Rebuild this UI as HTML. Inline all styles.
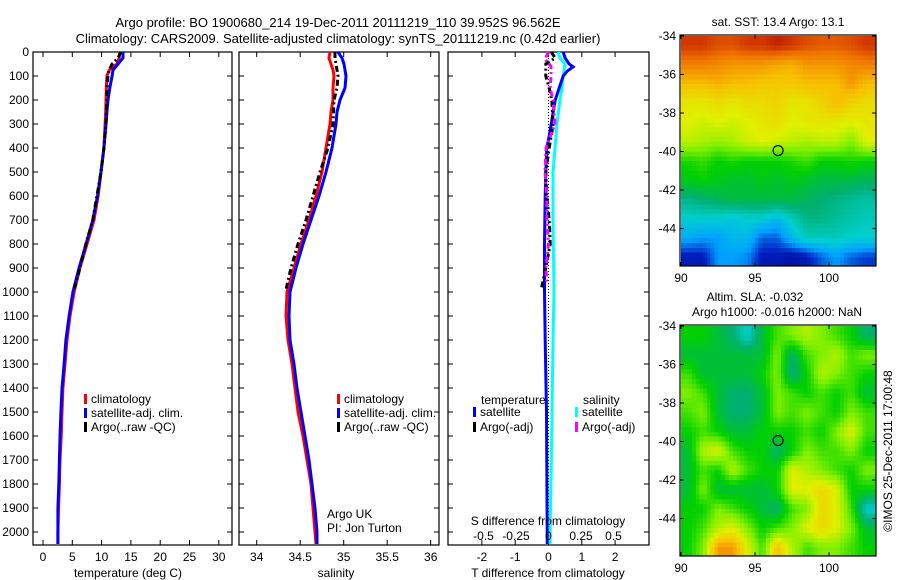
<!DOCTYPE html>
<html><head><meta charset="utf-8">
<style>
html,body{margin:0;padding:0;background:#fff;}
svg{display:block;font-family:"Liberation Sans",sans-serif;}
text{font-size:12px;fill:#000;}
</style></head>
<body>
<svg id="fig" width="900" height="580" viewBox="0 0 900 580" xmlns="http://www.w3.org/2000/svg">
<text x="338" y="27" text-anchor="middle" style="font-size:13px">Argo profile: BO 1900680_214 19-Dec-2011 20111219_110 39.952S 96.562E</text>
<text x="338" y="43" text-anchor="middle" style="font-size:13px">Climatology: CARS2009. Satellite-adjusted climatology: synTS_20111219.nc (0.42d earlier)</text>
</svg>
<script>
// ---------- data ----------
const depthClim = [0,25,50,75,100,150,200,250,300,400,500,600,700,800,900,1000,1100,1200,1300,1400,1500,1600,1700,1800,1900,2000,2050];
const tempClim = [13.1,13.0,12.6,11.3,10.9,10.8,10.75,10.7,10.6,10.4,9.9,9.4,8.7,7.5,6.3,5.3,4.6,4.1,3.75,3.4,3.25,3.1,2.9,2.8,2.65,2.55,2.55];
const tempSat = [13.65,13.65,12.8,11.95,11.8,11.4,11.1,10.9,10.75,10.4,9.9,9.3,8.5,7.35,6.15,5.1,4.45,3.9,3.6,3.25,3.05,2.9,2.8,2.7,2.55,2.55,2.55];
const depthArgo = [0,25,50,75,100,150,200,300,400,500,600,700,800,900,990];
const tempArgo = [13.3,12.8,11.8,11.3,11.1,10.9,10.9,10.75,10.4,9.9,9.2,8.5,7.3,6.3,5.3];
const salClim = [34.843,34.831,34.854,34.877,34.889,34.877,34.877,34.854,34.843,34.797,34.751,34.682,34.601,34.509,34.429,34.348,34.337,34.360,34.406,34.440,34.475,34.532,34.578,34.624,34.647,34.670,34.682];
const salSat = [34.934,34.980,35.003,35.015,35.026,35.015,34.957,34.923,34.911,34.866,34.797,34.716,34.624,34.532,34.452,34.383,34.371,34.383,34.429,34.463,34.509,34.555,34.601,34.636,34.670,34.693,34.693];
const salArgo = [34.900,34.900,34.911,34.923,34.934,34.923,34.889,34.877,34.820,34.728,34.647,34.567,34.475,34.394,34.337];
const depthTdiff = [0,25,50,62,80,100,150,200,250,300,350,400,500,600,800,1000,1200,1500,2000,2050];
const tDiffSat = [0.44,0.5,0.62,0.74,0.56,0.44,0.32,0.2,0.14,0.08,0.02,-0.05,-0.08,-0.1,-0.12,-0.12,-0.1,-0.06,-0.04,-0.04];
const depthSdiff = [0,25,50,100,150,200,300,400,500,700,1000,1200,1500,1800,2000,2050];
const sDiffSat = [0.073,0.088,0.127,0.112,0.104,0.088,0.065,0.05,0.035,0.035,0.042,0.035,0.027,0.019,0.012,0.012];
const depthTdiffArgo = [0,25,50,100,150,200,300,400,500,600,700,800,900,990];
const tDiffArgo = [0.08,0.2,-0.08,-0.08,0.02,0.1,0.14,0.02,-0.08,-0.05,0.02,0.05,-0.08,-0.22];
const depthSdiffArgo = [0,30,60,100,150,200,300,400,500,600,700,800,900,970];
const sDiffArgo = [0,-0.027,0.019,0.019,0.012,0.035,0.05,-0.019,-0.027,-0.012,-0.012,0,-0.019,-0.012];
const depthTicks = [0,100,200,300,400,500,600,700,800,900,1000,1100,1200,1300,1400,1500,1600,1700,1800,1900,2000];
const tempTicks = [0,5,10,15,20,25,30];
const salTicks = [34,34.5,35,35.5,36];
const tDiffTicks = [-2,-1,0,1,2];
const sDiffTicks = [-0.5,-0.25,0,0.25,0.5];
const sDiffTickLabels = ["-0.5","-0.25","0","0.25","0.5"];
const lonTicks = [90,95,100];
const latTicks = [-34,-36,-38,-40,-42,-44];
// SST grid (colour index 0..1), rows lat -34.5..-45.5, cols lon 90.5..102.5
const sstGrid = [
[.95,.95,.93,.93,.95,.95,.97,.95,.93,.92,.92,.93,.95],
[.88,.88,.87,.85,.85,.85,.83,.82,.85,.85,.85,.87,.88],
[.8,.8,.82,.8,.8,.78,.78,.78,.8,.8,.8,.85,.8],
[.72,.72,.74,.72,.74,.74,.76,.72,.72,.76,.8,.76,.74],
[.7,.68,.7,.68,.7,.72,.74,.7,.72,.72,.72,.7,.72],
[.66,.64,.62,.64,.68,.7,.68,.66,.64,.66,.66,.6,.7],
[.52,.54,.5,.52,.5,.5,.5,.52,.55,.5,.5,.52,.5],
[.48,.5,.48,.46,.46,.48,.46,.48,.46,.44,.44,.44,.42],
[.38,.4,.42,.44,.44,.44,.44,.44,.42,.4,.38,.36,.35],
[.3,.3,.3,.28,.3,.3,.25,.32,.38,.38,.36,.34,.32],
[.22,.2,.2,.25,.25,.15,.15,.25,.32,.32,.32,.3,.3],
[.08,.08,.2,.2,.18,.08,.08,.05,.08,.15,.2,.15,.12]];
const slaGrid = [
[.5,.5,.45,.4,.3,.45,.55,.6,.65,.6,.55,.5,.4],
[.45,.45,.45,.45,.45,.45,.6,.4,.55,.6,.65,.55,.6],
[.55,.45,.45,.45,.45,.5,.6,.38,.5,.65,.6,.55,.5],
[.6,.55,.45,.4,.4,.45,.6,.55,.5,.55,.5,.55,.45],
[.55,.6,.45,.4,.4,.45,.6,.55,.6,.55,.5,.6,.55],
[.5,.55,.5,.45,.45,.5,.5,.5,.55,.5,.6,.7,.55],
[.45,.65,.7,.55,.5,.5,.4,.5,.6,.55,.55,.6,.5],
[.45,.55,.5,.65,.55,.5,.5,.7,.65,.6,.55,.5,.6],
[.45,.6,.45,.45,.45,.45,.5,.7,.7,.75,.7,.5,.5],
[.5,.5,.6,.55,.5,.45,.4,.55,.6,.75,.7,.55,.3],
[.5,.55,.65,.7,.6,.5,.55,.6,.7,.75,.7,.6,.45],
[.5,.6,.85,.85,.7,.55,.8,.65,.55,.6,.6,.55,.5]];
const argoLon = 96.56, argoLat = -39.95;

// ---------- helpers ----------
const NS = "http://www.w3.org/2000/svg";
const svg = document.getElementById('fig');
function el(tag, attrs, parent){ const e=document.createElementNS(NS,tag); for(const k in attrs) e.setAttribute(k,attrs[k]); (parent||svg).appendChild(e); return e; }
function txt(x,y,s,anchor,parent){ const t=el('text',{x:x,y:y,'text-anchor':anchor||'start'},parent); t.textContent=s; return t; }
const yD = d => 52 + d*0.24;
const PB = 545;

function panel(name,x0,x1,xfun,ticks,labels,showY){
  const g = el('g',{});
  
  
  el('rect',{x:x0,y:52,width:x1-x0,height:PB-52,fill:'none',stroke:'#000','stroke-width':1.2},g);
  depthTicks.forEach(d=>{ const y=yD(d);
    el('line',{x1:x0,y1:y,x2:x0+5,y2:y,stroke:'#000'},g);
    el('line',{x1:x1-5,y1:y,x2:x1,y2:y,stroke:'#000'},g);
    if(showY){ const t=txt(x0-4,y+4,String(d),'end',g);
      
       }
  });
  if(ticks) ticks.forEach((v,i)=>{ const x=xfun(v);
    el('line',{x1:x,y1:52,x2:x,y2:57,stroke:'#000'},g);
    el('line',{x1:x,y1:PB-5,x2:x,y2:PB,stroke:'#000'},g);
    const t=txt(x,561,labels?labels[i]:String(v),'middle',g);
    
    
  });
  return g;
}
function line(g,xs,ds,xfun,color,w,dash,name){
  const pts = xs.map((v,i)=>xfun(v).toFixed(1)+','+yD(ds[i]).toFixed(1)).join(' ');
  const p = el('polyline',{points:pts,fill:'none',stroke:color,'stroke-width':w},g);
  if(dash) p.setAttribute('stroke-dasharray',dash);
  
  
}
function legendItem(g,x,y,color,label){
  el('rect',{x:x,y:y-5,width:3,height:10,fill:color},g);
  txt(x+7,y+4,label,'start',g);
}

// ---------- panel 1: temperature ----------
const xT = v => 43 + v*5.86;
const g1 = panel('temperature-panel',33,232,xT,tempTicks,null,true);
line(g1,tempClim,depthClim,xT,'#ff0000',3,null,'temp-climatology-line');
line(g1,tempSat,depthClim,xT,'#0000ff',3,null,'temp-satellite-line');
line(g1,tempArgo,depthArgo,xT,'#000',3,'6,3,2,3','temp-argo-line');
legendItem(g1,84,399,'#ff0000','climatology');
legendItem(g1,84,413,'#0000ff','satellite-adj. clim.');
legendItem(g1,84,427,'#000','Argo(..raw -QC)');
const tl=txt(128,577,'temperature (deg C)','middle',g1);
 

// ---------- panel 2: salinity ----------
const xS = v => 256.7 + (v-34)*87;
const g2 = panel('salinity-panel',239,439,xS,salTicks,null,false);
line(g2,salClim,depthClim,xS,'#ff0000',3,null,'sal-climatology-line');
line(g2,salSat,depthClim,xS,'#0000ff',3,null,'sal-satellite-line');
line(g2,salArgo,depthArgo,xS,'#000',3,'6,3,2,3','sal-argo-line');
legendItem(g2,337,399,'#ff0000','climatology');
legendItem(g2,337,413,'#0000ff','satellite-adj. clim.');
legendItem(g2,337,427,'#000','Argo(..raw -QC)');
txt(327,518,'Argo UK','start',g2);
txt(327,532,'PI: Jon Turton','start',g2);
const sl=txt(336,577,'salinity','middle',g2);
 

// ---------- panel 3: differences ----------
const xDT = v => 548.5 + v*33.3;
const xDS = v => 548.5 + v*130;
const g3 = panel('difference-panel',448,649,xDT,tDiffTicks,null,false);
el('line',{x1:548.5,y1:52,x2:548.5,y2:PB,stroke:'#000','stroke-width':1,'stroke-dasharray':'1,2'},g3);
line(g3,sDiffSat,depthSdiff,xDS,'#00ffff',3,null,'sdiff-satellite-line');
line(g3,tDiffSat,depthTdiff,xDT,'#0000ff',3,null,'tdiff-satellite-line');
line(g3,tDiffArgo,depthTdiffArgo,xDT,'#000',3,'6,3,2,3','tdiff-argo-line');
line(g3,sDiffArgo,depthSdiffArgo,xDS,'#ff00ff',3,'6,3,2,3','sdiff-argo-line');
sDiffTicks.forEach((v,i)=>{ const t=txt(xDS(v),540,sDiffTickLabels[i],'middle',g3);
    });
txt(548,525,'S difference from climatology','middle',g3);
txt(548,577,'T difference from climatology','middle',g3);
txt(481,404,'temperature','start',g3);
txt(583,404,'salinity','start',g3);
legendItem(g3,473,412,'#0000ff','satellite');
legendItem(g3,473,427,'#000','Argo(-adj)');
legendItem(g3,575,412,'#00ffff','satellite');
legendItem(g3,575,427,'#ff00ff','Argo(-adj)');

// ---------- maps ----------
const cstops = [[0,[0,0,139]],[0.1,[0,32,192]],[0.2,[0,160,255]],[0.3,[0,208,208]],[0.4,[0,176,112]],[0.5,[0,208,0]],[0.6,[128,240,0]],[0.7,[224,240,0]],[0.8,[248,192,0]],[0.9,[240,112,0]],[1,[176,0,0]]];
function cmap(v){ v=Math.max(0,Math.min(1,v));
  for(let i=1;i<cstops.length;i++){ if(v<=cstops[i][0]){ const a=cstops[i-1],b=cstops[i],f=(v-a[0])/(b[0]-a[0]);
    return 'rgb('+a[1].map((c,k)=>Math.round(c+(b[1][k]-c)*f)).join(',')+')'; } }
  return 'rgb(176,0,0)'; }
function sample(grid,lon,lat){
  let c=lon-90.5, r=-34.5-lat;
  c=Math.max(0,Math.min(12,c)); r=Math.max(0,Math.min(11,r));
  const c0=Math.min(11,Math.floor(c)), r0=Math.min(10,Math.floor(r)), fc=c-c0, fr=r-r0;
  return grid[r0][c0]*(1-fc)*(1-fr)+grid[r0][c0+1]*fc*(1-fr)+grid[r0+1][c0]*(1-fc)*fr+grid[r0+1][c0+1]*fc*fr;
}
function map(name,grid,top){
  const L=680,R=876,T=top,B=top+231;
  const xL = lon => 681 + (lon-90)*14.8;
  const yL = lat => T+1 + (-34-lat)*19.25;
  const g = el('g',{});
  
  
  const cells = el('g',{'shape-rendering':'crispEdges'},g);
  for(let lat=-34; lat>-46; lat-=0.25){
    for(let lon=90; lon<103.25; lon+=0.25){
      const v = sample(grid,lon+0.125,lat-0.125);
      el('rect',{x:xL(lon).toFixed(2),y:yL(lat).toFixed(2),width:3.8,height:4.9,fill:cmap(v)},cells);
    }
  }
  el('rect',{x:R,y:T,width:20,height:B-T+2,fill:'#fff'},g);
  el('rect',{x:L,y:B,width:R-L+20,height:8,fill:'#fff'},g);
  el('rect',{x:L,y:T,width:R-L,height:B-T,fill:'none',stroke:'#000','stroke-width':1.2},g);
  lonTicks.forEach(v=>{ const x=xL(v);
    el('line',{x1:x,y1:T,x2:x,y2:T+4,stroke:'#000'},g);
    el('line',{x1:x,y1:B-4,x2:x,y2:B,stroke:'#000'},g);
    const t=txt(x,B+16,String(v),'middle',g);
     
  });
  latTicks.forEach(v=>{ const y=yL(v);
    el('line',{x1:L,y1:y,x2:L+4,y2:y,stroke:'#000'},g);
    el('line',{x1:R-4,y1:y,x2:R,y2:y,stroke:'#000'},g);
    const t=txt(L-4,y+4,String(v),'end',g);
     
  });
  const c = el('circle',{cx:xL(argoLon),cy:yL(argoLat),r:5,fill:'none',stroke:'#000','stroke-width':1.2},g);
  
  
  return g;
}
map('sst-map',sstGrid,35);
map('sla-map',slaGrid,325);
txt(778,26,'sat. SST: 13.4 Argo: 13.1','middle');
txt(755,301,'Altim. SLA: -0.032','middle');
txt(777,316,'Argo h1000: -0.016 h2000: NaN','middle');
const cr = el('text',{x:0,y:0,'text-anchor':'middle',transform:'translate(892,451) rotate(-90)'});
cr.textContent='©IMOS 25-Dec-2011 17:00:48';


</script>
</body></html>
